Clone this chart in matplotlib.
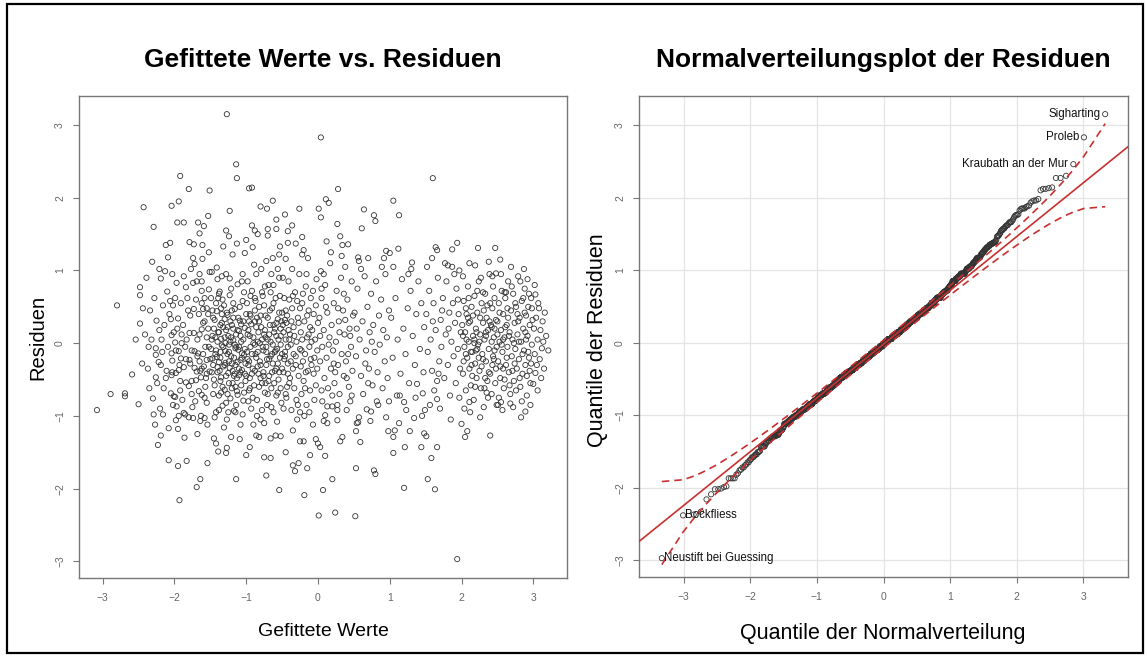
import numpy as np
import matplotlib
matplotlib.use("Agg")
import matplotlib.pyplot as plt
from matplotlib.patches import Rectangle
from statistics import NormalDist

# Punkte (gefitteter Wert, Residuum), nach x-Bereichen
bereich_a = [(-3.08, -0.92), (-2.89, -0.70), (-2.69, -0.69), (-2.69, -0.73), (-2.59, -0.43), (-2.50, -0.84),
             (-2.80, 0.52), (-2.54, 0.05)]

bereich_b = [(-2.43, 1.87), (-2.29, 1.60), (-2.12, 1.35), (-2.06, 1.38), (-2.04, 1.89), (-2.48, 0.77), (-2.48, 0.66),
             (-2.19, 0.89), (-2.13, 0.99), (-2.48, 0.27), (-2.26, -0.47), (-2.30, -0.76), (-2.29, -0.98), (-2.20, -0.90),
             (-2.26, -0.16), (-2.26, -0.07), (-2.22, -0.26), (-2.19, -0.30), (-2.05, -0.69), (-2.01, -0.73), (-2.19, -1.27),
             (-2.23, -1.40), (-2.08, -1.17), (-2.08, -1.61), (-2.02, 0.52), (-2.05, 0.33), (-2.04, 0.11), (-2.04, -0.14),
             (-2.04, -0.44), (-2.41, 0.12), (-2.37, -0.35), (-2.34, 0.45), (-2.32, 0.05), (-2.28, 0.62), (-2.25, 0.31),
             (-2.24, -0.55), (-2.21, 0.18), (-2.17, -0.12), (-2.16, 0.52), (-2.15, -0.62), (-2.14, 0.25), (-2.11, -0.38),
             (-2.10, 0.71), (-2.09, -0.05), (-2.07, 0.40), (-2.03, -0.24), (-2.03, 0.95), (-2.02, -0.85), (-2.01, 0.15),
             (-2.45, -0.28), (-2.39, 0.90), (-2.35, -0.62), (-2.31, 1.12), (-2.27, -1.12), (-2.18, 0.05), (-2.12, -0.48),
             (-2.06, 0.58), (-2.03, -0.40), (-2.44, 0.48), (-2.21, 1.02), (-2.16, -0.98), (-2.09, 1.18), (-2.36, -0.05)]

bereich_c = [(-1.92, 2.30), (-1.80, 2.12), (-1.51, 2.10), (-1.94, 1.95), (-1.96, 1.66), (-1.87, 1.66), (-1.67, 1.66),
             (-1.59, 1.61), (-1.53, 1.75), (-1.65, 1.51), (-1.79, 1.39), (-1.73, 1.36), (-1.52, 1.25), (-1.74, 1.17),
             (-1.61, 1.16), (-1.72, 1.09), (-1.51, 0.98),
             (-1.99, -0.74), (-1.97, -0.87), (-1.94, -1.00), (-1.98, -1.06), (-1.85, -0.98), (-1.80, -1.02), (-1.74, -1.03),
             (-1.75, -0.88), (-1.63, -1.00), (-1.58, -1.03), (-1.64, -1.07), (-1.95, -1.18), (-1.95, -1.69), (-1.83, -1.62),
             (-1.54, -1.65), (-1.93, -2.16), (-1.69, -1.98), (-1.64, -1.87), (-1.87, -0.96), (-1.80, -0.59), (-1.66, -0.66),
             (-1.55, -0.82), (-1.62, -0.71), (-1.92, -0.65),
             (-1.87, 0.92), (-1.84, 0.77), (-1.97, 0.83), (-1.74, 0.83), (-1.91, 0.55), (-1.70, 0.60), (-1.62, 0.55),
             (-1.52, 0.74), (-1.73, 0.47), (-1.66, 0.40), (-1.60, 0.47), (-1.55, 0.48), (-1.62, 0.19), (-1.79, 0.14),
             (-1.73, 0.14), (-1.90, 0.12), (-1.98, -0.10), (-1.94, -0.11), (-1.90, 0.00), (-1.99, 0.01), (-1.91, -0.21),
             (-1.84, -0.22), (-1.79, -0.23), (-1.94, -0.37), (-1.87, -0.33), (-1.98, -0.41), (-1.92, -0.52), (-1.84, -0.54),
             (-1.76, -0.52), (-1.70, -0.51), (-1.63, -0.47), (-1.56, -0.48), (-1.69, -0.39), (-1.72, -0.34), (-1.76, -0.10),
             (-1.72, -0.11), (-1.67, -0.14), (-1.65, -0.25), (-1.59, -0.32), (-1.55, -0.23), (-1.51, -0.39), (-1.95, 0.34),
             (-1.88, 0.25), (-1.82, 0.62), (-1.78, 0.38), (-1.69, 0.85), (-1.58, 0.30), (-1.55, 0.08), (-1.62, 0.72),
             (-1.85, -0.05), (-1.96, 0.20), (-1.81, 0.45), (-1.76, -0.70), (-1.68, 0.05), (-1.57, -0.60), (-1.53, 0.40),
             (-1.89, -0.78), (-1.71, -0.80), (-1.60, -0.15), (-1.83, 0.05), (-1.65, 0.95), (-1.93, -0.30), (-1.58, 0.62),
             (-1.86, -1.30), (-1.68, -1.25), (-1.77, 1.02), (-1.52, -0.05), (-1.64, -0.38), (-1.99, 0.62), (-1.54, -1.12),
             (-1.78, -0.28), (-1.61, 1.35)]

bereich_d = [(-1.27, 3.15), (-1.14, 2.46), (-1.13, 2.27), (-1.23, 1.82), (-1.28, 1.55), (-1.24, 1.47), (-1.32, 1.33),
             (-1.13, 1.37), (-1.02, 1.24), (-1.19, 1.22), (-1.41, 1.04), (-1.48, 0.98), (-1.34, 0.92), (-1.28, 0.95),
             (-1.23, 0.89), (-1.45, -1.31), (-1.42, -1.38), (-1.39, -1.49), (-1.28, -1.51), (-1.27, -1.44), (-1.21, -1.29),
             (-1.09, -1.32), (-1.14, -1.87), (-1.00, 1.42),
             (-1.49, 0.62), (-1.47, -0.21), (-1.46, 0.35), (-1.44, -0.58), (-1.43, 0.08), (-1.42, -0.95), (-1.41, 0.44),
             (-1.40, -0.33), (-1.39, 0.15), (-1.38, -0.72), (-1.37, 0.71), (-1.36, -0.12), (-1.35, -0.47), (-1.34, 0.28),
             (-1.33, -0.86), (-1.32, -0.05), (-1.31, 0.52), (-1.30, -0.64), (-1.29, -0.27), (-1.28, 0.18), (-1.27, -1.05),
             (-1.26, 0.39), (-1.25, -0.41), (-1.24, -0.02), (-1.23, 0.66), (-1.22, -0.76), (-1.21, -0.18), (-1.20, 0.25),
             (-1.19, -0.55), (-1.18, 0.04), (-1.17, -0.93), (-1.16, 0.47), (-1.15, -0.30), (-1.14, 0.12), (-1.13, -0.66),
             (-1.12, 0.81), (-1.11, -0.09), (-1.10, -0.44), (-1.09, 0.31), (-1.08, -1.12), (-1.07, 0.02), (-1.06, -0.37),
             (-1.05, 0.58), (-1.04, -0.79), (-1.03, -0.16), (-1.02, 0.21), (-1.01, -0.52), (-1.00, 0.40), (-1.48, -0.40),
             (-1.45, 0.20), (-1.43, -0.15), (-1.40, 0.88), (-1.38, -0.26), (-1.35, 0.06), (-1.33, -0.60), (-1.30, 0.33),
             (-1.28, -0.82), (-1.25, 0.10), (-1.23, -0.34), (-1.20, -0.62), (-1.18, 0.55), (-1.15, -0.07), (-1.13, -0.48),
             (-1.10, 0.17), (-1.08, -0.23), (-1.05, -0.98), (-1.03, 0.70), (-1.46, -0.70), (-1.42, 0.55), (-1.37, -0.38),
             (-1.34, -0.03), (-1.31, -1.16), (-1.27, 0.42), (-1.24, -0.55), (-1.21, 0.08), (-1.17, -0.20), (-1.14, -0.85),
             (-1.11, 0.35), (-1.07, -0.58), (-1.04, 0.05), (-1.49, -0.08), (-1.47, 0.45), (-1.44, -1.02), (-1.41, -0.19),
             (-1.39, 0.62), (-1.36, -0.52), (-1.32, 0.22), (-1.29, -0.11), (-1.26, -0.70), (-1.22, 0.30), (-1.19, -0.38),
             (-1.16, -0.02), (-1.12, -0.71), (-1.09, 0.50), (-1.06, -0.14), (-1.02, -0.42), (-1.45, -0.50), (-1.40, 0.02),
             (-1.35, 0.48), (-1.30, -0.30), (-1.26, -0.15), (-1.21, 0.75), (-1.17, -0.45), (-1.12, -0.26), (-1.07, 0.26),
             (-1.03, -0.68), (-1.38, -0.92), (-1.33, 0.60), (-1.29, 0.00), (-1.24, -0.25), (-1.20, 0.45), (-1.15, -0.60),
             (-1.10, -0.05), (-1.06, 0.85), (-1.01, -0.28), (-1.47, 0.10), (-1.36, 0.25), (-1.25, -0.95), (-1.18, 0.20),
             (-1.08, -0.40)]

bereich_e = [(-0.96, 2.13), (-0.92, 2.14), (-0.80, 1.88), (-0.71, 1.85), (-0.63, 1.96), (-0.92, 1.62), (-0.88, 1.55),
             (-0.84, 1.50), (-0.70, 1.57), (-0.70, 1.48), (-0.58, 1.70), (-0.58, 1.57), (-0.91, 1.32), (-0.53, 1.33),
             (-0.72, 1.13), (-0.63, 1.17), (-0.54, 1.22), (-0.56, 1.02), (-1.00, -1.54), (-0.95, -1.43), (-0.86, -1.27),
             (-0.82, -1.29), (-0.75, -1.57), (-0.66, -1.58), (-0.66, -1.31), (-0.59, -1.27), (-0.52, -1.28), (-0.72, -1.82),
             (-0.54, -2.02),
             (-0.99, 0.55), (-0.98, -0.22), (-0.97, 0.18), (-0.96, -0.65), (-0.95, 0.40), (-0.94, -0.05), (-0.93, -0.90),
             (-0.92, 0.72), (-0.91, -0.35), (-0.90, 0.08), (-0.89, -0.58), (-0.88, 0.30), (-0.87, -0.15), (-0.86, 0.95),
             (-0.85, -0.78), (-0.84, 0.02), (-0.83, -0.42), (-0.82, 0.50), (-0.81, -0.25), (-0.80, -1.05), (-0.79, 0.22),
             (-0.78, -0.55), (-0.77, 0.65), (-0.76, -0.10), (-0.75, 0.12), (-0.74, -0.68), (-0.73, 0.38), (-0.72, -0.30),
             (-0.71, -0.85), (-0.70, 0.05), (-0.69, 0.80), (-0.68, -0.45), (-0.67, 0.25), (-0.66, -0.18), (-0.65, -0.62),
             (-0.64, 0.48), (-0.63, -0.02), (-0.62, -0.95), (-0.61, 0.15), (-0.60, -0.38), (-0.59, 0.62), (-0.58, -0.72),
             (-0.57, -0.08), (-0.56, 0.33), (-0.55, -0.50), (-0.54, 0.90), (-0.53, -0.20), (-0.52, 0.10), (-0.51, -0.82),
             (-0.50, 0.42), (-0.98, 0.85), (-0.95, -0.48), (-0.93, 0.26), (-0.90, -1.12), (-0.87, 0.58), (-0.84, -0.32),
             (-0.81, 0.00), (-0.78, -0.92), (-0.75, 0.52), (-0.72, -0.12), (-0.69, -0.52), (-0.66, 0.70), (-0.63, -0.28),
             (-0.60, 0.20), (-0.57, -1.08), (-0.54, -0.40), (-0.51, 0.30), (-0.97, -0.30), (-0.94, 0.65), (-0.91, -0.75),
             (-0.88, -0.02), (-0.85, 0.35), (-0.82, -0.60), (-0.79, 1.02), (-0.76, -0.40), (-0.73, 0.08), (-0.70, -0.70),
             (-0.67, 0.45), (-0.64, -0.15), (-0.61, -0.55), (-0.58, 0.28), (-0.55, 0.05), (-0.52, -0.62), (-0.99, -0.12),
             (-0.96, 0.30), (-0.92, -0.42), (-0.89, 1.08), (-0.86, -0.20), (-0.83, 0.15), (-0.80, -0.48), (-0.77, -0.05),
             (-0.74, 0.78), (-0.71, -0.22), (-0.68, 0.12), (-0.65, -0.88), (-0.62, 0.55), (-0.59, -0.10), (-0.56, -0.68),
             (-0.53, 0.65), (-0.50, -0.15), (-0.97, -0.80), (-0.88, 0.45), (-0.80, 0.38), (-0.73, -0.55), (-0.65, 0.95),
             (-0.58, -0.35), (-0.52, 0.20), (-0.95, 0.10), (-0.85, -1.00), (-0.78, 0.70)]

bereich_f = [(-0.46, 1.77), (-0.36, 1.62), (-0.42, 1.54), (-0.31, 1.37), (-0.22, 1.46), (-0.14, 1.17), (-0.42, 1.38),
             (-0.22, 1.22), (-0.20, 1.28), (-0.45, 1.16), (-0.26, 1.85), (-0.45, -1.50), (-0.35, -1.68), (-0.27, -1.65),
             (-0.15, -1.72), (-0.32, -1.76), (-0.11, -1.54), (-0.25, -1.35), (-0.20, -1.35), (-0.03, -1.32), (-0.19, -2.09),
             (-0.49, 0.25), (-0.48, -0.40), (-0.47, 0.62), (-0.46, -0.12), (-0.45, 0.05), (-0.44, -0.75), (-0.43, 0.38),
             (-0.42, -0.28), (-0.41, 0.85), (-0.40, -0.55), (-0.39, 0.12), (-0.38, -0.02), (-0.37, -0.92), (-0.36, 0.48),
             (-0.35, -0.35), (-0.34, 0.22), (-0.33, -0.62), (-0.32, 0.70), (-0.31, -0.18), (-0.30, 0.02), (-0.29, -1.05),
             (-0.28, 0.35), (-0.27, -0.45), (-0.26, 0.95), (-0.25, -0.08), (-0.24, 0.15), (-0.23, -0.70), (-0.22, 0.55),
             (-0.21, -0.25), (-0.20, -0.52), (-0.19, 0.30), (-0.18, -0.15), (-0.17, 0.78), (-0.16, -0.85), (-0.15, 0.08),
             (-0.14, -0.38), (-0.13, 0.45), (-0.12, -0.05), (-0.11, -0.65), (-0.10, 0.62), (-0.09, -0.30), (-0.08, 0.18),
             (-0.07, -1.12), (-0.06, 0.40), (-0.05, -0.20), (-0.04, 0.05), (-0.03, -0.58), (-0.02, 0.88), (-0.01, -0.10),
             (0.00, 0.28), (-0.48, -0.90), (-0.45, 0.45), (-0.42, -0.05), (-0.39, -0.48), (-0.36, 1.02), (-0.33, 0.10),
             (-0.30, -0.78), (-0.27, 0.28), (-0.24, -0.32), (-0.21, 0.68), (-0.18, -0.62), (-0.15, 0.38), (-0.12, -0.95),
             (-0.09, 0.02), (-0.06, -0.42), (-0.03, 0.52), (-0.47, -0.22), (-0.41, 0.18), (-0.35, -1.20), (-0.29, 0.58),
             (-0.23, -0.10), (-0.17, -0.40), (-0.11, 0.22), (-0.05, -0.78), (-0.49, 0.90), (-0.43, -0.60), (-0.37, 0.30),
             (-0.31, -0.30), (-0.25, 0.48), (-0.19, -1.00), (-0.13, 0.12), (-0.07, 0.72), (-0.01, -0.35), (-0.46, 0.32),
             (-0.34, -0.15), (-0.22, 0.05), (-0.10, -0.22), (-0.40, 0.60), (-0.28, -0.85), (-0.16, 0.95)]

bereich_g = [(0.04, 2.83), (0.28, 2.12), (0.11, 1.98), (0.15, 1.93), (0.01, 1.85), (0.04, 1.73), (0.27, 1.64),
             (0.31, 1.47), (0.34, 1.35), (0.42, 1.36), (0.04, 0.99), (0.00, -1.38), (0.03, -1.43), (0.01, -2.37),
             (0.24, -2.33), (0.20, -1.87), (0.07, -2.02), (0.10, -1.55), (0.31, -1.35), (0.34, -1.29), (0.06, -0.80),
             (0.13, -0.87), (0.20, -0.87), (0.27, -0.85), (0.27, -0.92), (0.40, -0.92), (0.45, -0.80), (0.08, -1.07),
             (0.13, -1.10), (0.27, -1.06), (0.10, -0.99),
             (0.02, 0.35), (0.03, -0.25), (0.05, 0.62), (0.06, -0.05), (0.08, 0.18), (0.09, -0.48), (0.10, 0.80),
             (0.12, -0.20), (0.13, 0.42), (0.14, -0.62), (0.16, 0.08), (0.17, 1.10), (0.18, -0.35), (0.19, 0.25),
             (0.21, -0.10), (0.22, 0.55), (0.23, -0.55), (0.25, 0.02), (0.26, 0.72), (0.28, -0.30), (0.29, 0.30),
             (0.30, -0.70), (0.32, 0.90), (0.33, -0.15), (0.35, 0.45), (0.36, -0.45), (0.37, 0.12), (0.38, 1.05),
             (0.39, -0.25), (0.41, 0.60), (0.43, -0.60), (0.44, 0.20), (0.46, -0.05), (0.47, 0.85), (0.48, -0.38),
             (0.49, 0.38), (0.05, -0.65), (0.11, 0.50), (0.18, 1.25), (0.24, -0.40), (0.30, 0.15), (0.36, 0.68),
             (0.42, -0.15), (0.08, 0.95), (0.20, -0.72), (0.33, 1.20), (0.45, 0.10), (0.15, -0.02), (0.28, 0.48),
             (0.40, -0.48), (0.03, 0.10), (0.22, -0.28), (0.38, 0.32), (0.47, -0.72), (0.12, 1.40)]

bereich_h = [(0.64, 1.84), (0.78, 1.76), (0.80, 1.68), (0.61, 1.58), (0.56, 1.18), (0.57, 1.13), (0.70, 1.17),
             (0.92, 1.17), (0.95, 1.27), (1.00, 1.24), (0.52, -2.38), (0.53, -1.72), (0.78, -1.75), (0.80, -1.80),
             (0.59, -1.36), (0.53, -1.21), (0.56, -1.09), (0.73, -1.07), (0.95, -1.02), (0.98, -1.21), (0.99, -0.80),
             (0.82, -0.80), (0.68, -0.91), (0.74, -0.94), (0.57, -1.02), (0.54, -1.10),
             (0.51, 0.42), (0.53, -0.18), (0.55, 0.75), (0.58, 0.05), (0.60, -0.45), (0.62, 0.30), (0.63, -0.70),
             (0.65, 0.92), (0.67, -0.10), (0.69, 0.50), (0.71, -0.35), (0.72, 0.15), (0.74, 0.68), (0.76, -0.58),
             (0.77, 0.25), (0.79, -0.12), (0.81, 0.85), (0.83, -0.40), (0.85, 0.38), (0.86, -0.02), (0.88, 0.60),
             (0.90, -0.62), (0.91, 0.18), (0.93, -0.25), (0.94, 0.95), (0.96, 0.08), (0.97, -0.48), (0.99, 0.45),
             (0.60, 1.02), (0.66, -0.28), (0.75, 0.02), (0.84, -0.85), (0.89, 1.05), (0.54, 0.20), (0.70, -0.55)]

bereich_i = [(1.05, 1.96), (1.13, 1.76), (1.05, 1.05), (1.31, 1.11), (1.30, 1.02), (1.20, -1.99), (1.05, -1.51),
             (1.21, -1.43), (1.44, -1.43), (1.13, -1.10), (1.28, -1.21), (1.34, -1.03), (1.45, -1.00), (1.49, -0.92),
             (1.48, -1.24), (1.05, -1.29), (1.07, -1.20), (1.10, -0.72), (1.14, -0.72), (1.20, -0.81), (1.23, -0.92),
             (1.38, -0.56), (1.46, -0.69),
             (1.02, 0.35), (1.04, -0.20), (1.08, 0.62), (1.11, 0.05), (1.15, -0.42), (1.17, 0.88), (1.19, 0.20),
             (1.22, -0.15), (1.25, 0.48), (1.27, -0.55), (1.29, 0.72), (1.32, 0.10), (1.35, -0.30), (1.37, 0.40),
             (1.40, 0.85), (1.42, -0.08), (1.44, 0.55), (1.47, -0.40), (1.12, 1.30), (1.26, 0.95), (1.36, -0.75),
             (1.48, 0.22)]

bereich_j = [(1.60, 2.27), (1.64, 1.32), (1.66, 1.28), (1.87, 1.29), (1.94, 1.38), (1.59, 1.17), (1.52, 1.05),
             (1.81, 1.07), (1.87, 1.05), (1.97, 1.00), (1.63, -2.01), (1.53, -1.87), (1.66, -1.43), (1.58, -1.58),
             (1.51, -1.28), (1.94, -2.97), (1.66, -0.52), (1.66, -0.77),
             (1.51, 0.40), (1.53, -0.12), (1.55, 0.72), (1.57, 0.05), (1.59, -0.38), (1.61, 0.55), (1.62, -0.65),
             (1.64, 0.18), (1.67, 0.90), (1.69, -0.25), (1.71, 0.32), (1.72, -0.05), (1.74, 0.62), (1.76, -0.48),
             (1.78, 0.12), (1.79, 0.85), (1.81, -0.30), (1.83, 0.42), (1.84, -0.72), (1.86, 0.02), (1.88, 0.55),
             (1.89, -0.18), (1.91, 0.28), (1.92, -0.55), (1.93, 0.75), (1.95, -0.08), (1.96, 0.40), (1.98, -0.35),
             (1.99, 0.15), (1.70, -0.90), (1.85, -1.05), (1.77, 1.10), (1.56, -0.85), (1.90, 0.95), (1.97, -0.75),
             (1.73, 0.45), (1.82, 0.20), (1.95, 0.60), (1.60, 0.30), (1.68, -0.42)]

bereich_k = [(2.23, 1.31), (2.47, 1.31), (2.19, 1.07), (2.43, 0.92), (2.48, 0.96), (2.00, -1.11), (2.05, -1.29),
             (2.08, -1.21), (2.40, -1.27), (2.11, -0.81),
             (2.01, 0.25), (2.02, -0.42), (2.03, 0.58), (2.04, -0.05), (2.05, 0.15), (2.06, -0.65), (2.07, 0.40),
             (2.08, -0.20), (2.09, 0.78), (2.10, 0.02), (2.11, -0.35), (2.12, 0.30), (2.13, -0.58), (2.14, 0.50),
             (2.15, -0.12), (2.16, 0.10), (2.17, -0.78), (2.18, 0.65), (2.19, -0.28), (2.20, 0.20), (2.21, -0.48),
             (2.22, 0.42), (2.23, -0.02), (2.24, 0.85), (2.25, -0.38), (2.26, 0.12), (2.27, -0.62), (2.28, 0.55),
             (2.29, -0.15), (2.30, 0.28), (2.31, -0.88), (2.32, 0.05), (2.33, 0.68), (2.34, -0.25), (2.35, 0.35),
             (2.36, -0.52), (2.37, 0.18), (2.38, -0.08), (2.39, 0.95), (2.40, -0.42), (2.41, 0.25), (2.42, -0.70),
             (2.43, 0.48), (2.44, -0.18), (2.45, 0.08), (2.46, 0.62), (2.47, -0.55), (2.48, 0.32), (2.49, -0.05),
             (2.02, 0.92), (2.04, -0.90), (2.07, 0.05), (2.10, 0.62), (2.13, -0.12), (2.16, 0.38), (2.19, -0.60),
             (2.22, 0.72), (2.25, 0.02), (2.28, -0.32), (2.31, 0.45), (2.34, 0.10), (2.37, -0.75), (2.40, 0.55),
             (2.43, -0.30), (2.46, 0.20), (2.49, -0.85), (2.03, -0.25), (2.09, 0.35), (2.15, -0.45), (2.21, 0.15),
             (2.27, 0.90), (2.33, -0.48), (2.39, 0.30), (2.45, -0.22), (2.06, 0.48), (2.12, -0.95), (2.18, 0.00),
             (2.24, -0.20), (2.30, 0.70), (2.36, 0.52), (2.42, 0.02), (2.48, -0.35), (2.11, 1.10), (2.26, -1.02),
             (2.38, 1.12), (2.20, -0.10), (2.32, -0.62), (2.44, 0.78)]

bereich_l = [(2.87, 1.02), (2.51, -0.85), (2.55, -0.81), (2.68, -0.83), (2.72, -0.88), (2.89, -0.94),
             (2.50, 0.30), (2.51, -0.25), (2.52, 0.55), (2.53, 0.02), (2.54, -0.48), (2.55, 0.18), (2.56, 0.72),
             (2.57, -0.12), (2.58, 0.40), (2.59, -0.62), (2.60, 0.08), (2.61, 0.62), (2.62, -0.30), (2.63, 0.25),
             (2.64, -0.05), (2.65, 0.85), (2.66, -0.40), (2.67, 0.15), (2.68, -0.70), (2.69, 0.45), (2.70, -0.18),
             (2.71, 0.05), (2.72, 0.68), (2.73, -0.52), (2.74, 0.28), (2.75, -0.08), (2.76, 0.50), (2.77, -0.35),
             (2.78, 0.12), (2.79, 0.92), (2.80, -0.22), (2.81, 0.35), (2.82, -0.60), (2.83, 0.02), (2.84, 0.58),
             (2.85, -0.42), (2.86, 0.20), (2.87, -0.10), (2.88, 0.75), (2.89, -0.30), (2.90, 0.38), (2.91, -0.72),
             (2.92, 0.10), (2.93, 0.50), (2.94, -0.20), (2.95, 0.25), (2.96, -0.55), (2.97, 0.62), (2.98, -0.02),
             (2.99, 0.32), (2.52, -0.75), (2.55, 0.95), (2.58, -0.35), (2.61, 0.22), (2.64, 0.48), (2.67, -0.58),
             (2.70, 0.78), (2.73, 0.00), (2.76, -0.65), (2.79, 0.30), (2.82, 0.85), (2.85, -0.15), (2.88, 0.42),
             (2.91, -0.45), (2.94, 0.68), (2.97, -0.28), (2.53, 0.42), (2.57, -0.92), (2.62, 0.70), (2.66, 0.10),
             (2.71, -0.38), (2.75, 0.55), (2.80, 0.02), (2.84, -0.80), (2.89, 0.15), (2.93, -0.12), (2.98, 0.48),
             (2.56, -0.02), (2.63, -0.20), (2.69, 1.05), (2.74, -0.28), (2.81, -0.48), (2.86, 0.62), (2.92, 0.88),
             (2.96, -0.85), (2.60, -0.50), (2.78, 0.40), (2.95, -0.38), (2.54, 1.15), (2.83, -1.02), (2.65, 0.35),
             (2.90, 0.05)]

bereich_m = [(3.03, 0.67), (3.08, 0.48), (3.00, -0.56), (3.03, -0.41), (3.12, -0.07), (3.21, -0.10),
             (3.01, 0.20), (3.02, -0.15), (3.04, 0.35), (3.05, -0.30), (3.06, 0.05), (3.07, 0.55), (3.09, -0.22),
             (3.10, 0.18), (3.11, -0.48), (3.13, 0.30), (3.14, 0.02), (3.15, -0.35), (3.16, 0.42), (3.18, 0.10),
             (3.06, -0.65), (3.02, 0.80)]

# dichter Kern der beiden Punktwolken
kern_links = [(-1.68, -0.18), (-1.65, 0.12), (-1.62, -0.35), (-1.60, 0.28), (-1.57, -0.05), (-1.55, -0.42),
              (-1.53, 0.20), (-1.50, -0.22), (-1.48, 0.05), (-1.46, -0.30), (-1.44, 0.32), (-1.42, -0.10),
              (-1.40, -0.40), (-1.38, 0.15), (-1.36, -0.20), (-1.34, 0.40), (-1.32, -0.32), (-1.30, 0.08),
              (-1.28, -0.45), (-1.26, 0.22), (-1.24, -0.12), (-1.22, 0.02), (-1.20, -0.28), (-1.18, 0.35),
              (-1.16, -0.42), (-1.14, -0.05), (-1.12, 0.18), (-1.10, -0.35), (-1.08, 0.10), (-1.06, -0.20),
              (-1.04, 0.30), (-1.02, -0.08), (-1.00, -0.45), (-0.98, 0.12), (-0.96, -0.25), (-0.94, 0.38),
              (-0.92, -0.15), (-0.90, 0.00), (-0.88, -0.38), (-0.86, 0.22), (-0.84, -0.12), (-0.82, 0.30),
              (-0.80, -0.30), (-0.78, 0.05), (-0.76, -0.45), (-0.74, 0.18), (-0.72, -0.05), (-0.70, 0.35),
              (-0.68, -0.22), (-0.66, 0.02), (-0.64, -0.40), (-0.62, 0.25), (-0.60, -0.12), (-0.58, 0.10),
              (-0.56, -0.28), (-0.54, 0.42), (-0.52, -0.02), (-0.50, -0.35), (-0.48, 0.15), (-0.46, -0.18),
              (-0.44, 0.28), (-0.42, -0.42), (-0.40, 0.05), (-0.38, -0.25),
              (-1.58, -0.75), (-1.35, -0.68), (-1.15, -0.95), (-0.95, -0.62), (-0.75, -1.10), (-0.45, -0.70),
              (-0.25, -0.95), (-1.62, 0.85), (-1.38, 0.68), (-1.05, 0.95), (-0.88, 0.62), (-0.62, 0.80),
              (-0.35, 0.65), (0.05, 0.75)]

kern_rechts = [(2.02, 0.10), (2.06, -0.15), (2.10, 0.28), (2.14, -0.30), (2.18, 0.05), (2.22, -0.08), (2.26, 0.35),
               (2.30, -0.22), (2.34, 0.15), (2.38, -0.40), (2.42, 0.22), (2.46, -0.10), (2.50, 0.12), (2.54, -0.32),
               (2.58, 0.05), (2.35, -0.68), (2.60, 0.70)]

# beschriftete Gemeinden im Normalverteilungsplot (ueber ihr Residuum)
label_namen = ["Sigharting", "Proleb", "Kraubath an der Mur", "Bockfliess", "Neustift bei Guessing"]
label_residuen = [3.15, 2.83, 2.46, -2.38, -2.97]

ticks = [-3, -2, -1, 0, 1, 2, 3]

punkte = np.array(bereich_a + bereich_b + bereich_c + bereich_d + bereich_e + bereich_f + bereich_g
                  + bereich_h + bereich_i + bereich_j + bereich_k + bereich_l + bereich_m
                  + kern_links + kern_rechts)
gefittet = punkte[:, 0]
residuen = punkte[:, 1]

plt.rcParams['font.family'] = ['Liberation Sans', 'DejaVu Sans']

W, H = 1147, 656
fig = plt.figure(figsize=(W / 100, H / 100), dpi=100, facecolor='white')

rot = '#c8302f'
rahmen = '#777777'
tickfarbe = '#666666'
punktfarbe = '#333333'


def px_axes(x0, y0, x1, y1):
    return fig.add_axes([x0 / W, 1 - y1 / H, (x1 - x0) / W, (y1 - y0) / H])


def stil(ax):
    for s in ax.spines.values():
        s.set_color(rahmen)
        s.set_linewidth(1.0)
    ax.set_xticks(ticks)
    ax.set_yticks(ticks)
    ax.tick_params(direction='out', length=4, width=0.8, color=rahmen,
                   labelcolor=tickfarbe, labelsize=7.5)
    ax.tick_params(axis='x', pad=7)
    ax.tick_params(axis='y', pad=6)
    for lab in ax.get_yticklabels():
        lab.set_rotation(90)
        lab.set_va('center')


# linke Grafik: Gefittete Werte vs. Residuen
ax1 = px_axes(79, 96, 567, 578)
ax1.scatter(gefittet, residuen, s=14, facecolors='none', edgecolors=punktfarbe, linewidths=0.6)
ax1.set_xlim(-3.33, 3.47)
ax1.set_ylim(-3.23, 3.40)
stil(ax1)

# rechte Grafik: Normalverteilungsplot mit Konfidenzband
nd = NormalDist()
n = len(residuen)
r_sort = np.sort(residuen)
p = (np.arange(1, n + 1) - 0.5) / n
z = np.array([nd.inv_cdf(v) for v in p])
q1, q3 = np.quantile(residuen, [0.25, 0.75])
steigung = (q3 - q1) / (nd.inv_cdf(0.75) - nd.inv_cdf(0.25))
achse = q1 - steigung * nd.inv_cdf(0.25)
fit = achse + steigung * z
se = steigung / np.array([nd.pdf(v) for v in z]) * np.sqrt(p * (1 - p) / n)

ax2 = px_axes(639, 96, 1128, 577)
ax2.grid(True, color='#e4e4e4', linewidth=0.9)
ax2.set_axisbelow(True)
ax2.scatter(z, r_sort, s=14, facecolors='none', edgecolors=punktfarbe, linewidths=0.6, zorder=2)
ax2.axline((0, achse), slope=steigung, color=rot, linewidth=1.2, zorder=3)
ax2.plot(z, fit + 1.96 * se, color=rot, linewidth=1.2, dashes=(4.5, 3), zorder=3)
ax2.plot(z, fit - 1.96 * se, color=rot, linewidth=1.2, dashes=(4.5, 3), zorder=3)
ax2.set_xlim(-3.67, 3.67)
ax2.set_ylim(-3.23, 3.40)
stil(ax2)

for name, wert in zip(label_namen, label_residuen):
    i = int(np.argmin(np.abs(r_sort - wert)))
    if wert > 0:
        ax2.annotate(name, (z[i], r_sort[i]), xytext=(-3.5, 0), textcoords='offset points',
                     ha='right', va='center', fontsize=8.3, color='#111111')
    else:
        ax2.annotate(name, (z[i], r_sort[i]), xytext=(1.5, 0), textcoords='offset points',
                     ha='left', va='center', fontsize=8.3, color='#111111')

# Titel und Achsenbeschriftungen
fig.text(323 / W, 1 - 60 / H, 'Gefittete Werte vs. Residuen', ha='center', va='center',
         fontsize=19, fontweight='bold')
fig.text(883 / W, 1 - 60 / H, 'Normalverteilungsplot der Residuen', ha='center', va='center',
         fontsize=19, fontweight='bold')
fig.text(323 / W, 1 - 632 / H, 'Gefittete Werte', ha='center', va='center', fontsize=14)
fig.text(883 / W, 1 - 633 / H, 'Quantile der Normalverteilung', ha='center', va='center', fontsize=15.5)
fig.text(38 / W, 1 - 337 / H, 'Residuen', ha='center', va='center', rotation=90, fontsize=14.5)
fig.text(598 / W, 1 - 340 / H, 'Quantile der Residuen', ha='center', va='center', rotation=90, fontsize=15.5)

# schwarzer Rahmen um die gesamte Grafik
fig.patches.append(Rectangle((7 / W, 3 / H), (1143 - 7) / W, (652 - 3) / H, transform=fig.transFigure,
                             fill=False, edgecolor='black', linewidth=1.6))

fig.savefig('out.png', dpi=100, facecolor='white')
